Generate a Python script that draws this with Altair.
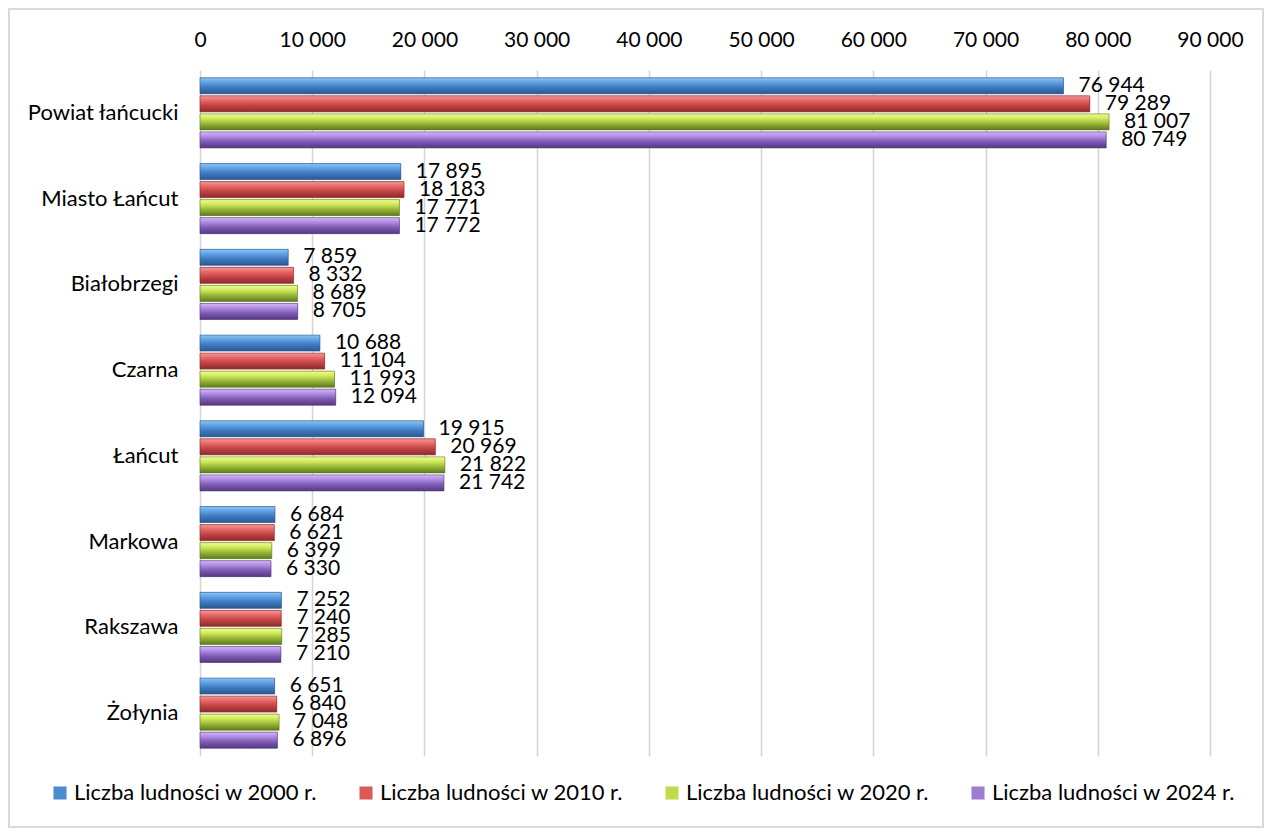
import altair as alt
import pandas as pd

categories = ["Powiat łańcucki", "Miasto Łańcut ", "Białobrzegi", "Czarna", "Łańcut",
              "Markowa", "Rakszawa", "Żołynia"]
series = ["Liczba ludności w 2000 r.", "Liczba ludności w 2010 r.",
          "Liczba ludności w 2020 r.", "Liczba ludności w 2024 r."]
v2000 = [76944, 17895, 7859, 10688, 19915, 6684, 7252, 6651]
v2010 = [79289, 18183, 8332, 11104, 20969, 6621, 7240, 6840]
v2020 = [81007, 17771, 8689, 11993, 21822, 6399, 7285, 7048]
v2024 = [80749, 17772, 8705, 12094, 21742, 6330, 7210, 6896]

colors = ["#4a8bd4", "#dd5858", "#bedc4c", "#9f7bd2"]
grads = [
    ["#8fc6f4", "#5d9fe2", "#3f7ac0", "#2b5890"],
    ["#f49a9a", "#e56666", "#c24444", "#8e2a2a"],
    ["#eeff8a", "#cfe85c", "#9ab83a", "#5f7a1e"],
    ["#d6b6f6", "#ad8ae0", "#7e5cb4", "#55397f"],
]

rows = []
for s, vals in zip(series, [v2000, v2010, v2020, v2024]):
    for c, v in zip(categories, vals):
        rows.append({"cat": c, "series": s, "value": v,
                     "label": f"{v:,}".replace(",", " ")})
df = pd.DataFrame(rows)

FONT = "Lato"
W, H = 1010, 686

y_enc = alt.Y("cat:N", sort=categories,
              scale=alt.Scale(paddingInner=0.18, paddingOuter=0.09),
              axis=alt.Axis(title=None, ticks=False, domain=False, grid=False,
                            labelFontSize=22, labelPadding=22, labelColor="#000",
                            labelFont=FONT, labelLimit=300))
yoff = alt.YOffset("series:N", sort=series, scale=alt.Scale(paddingInner=0.1))
x_enc = alt.X("value:Q", scale=alt.Scale(domain=[0, 90000], nice=False),
              axis=alt.Axis(orient="top", title=None, values=list(range(0, 90001, 10000)),
                            labelExpr="replace(format(datum.value, ',d'), ',', ' ')",
                            ticks=False, domain=False, grid=True, gridColor="#d4d4d4",
                            gridWidth=1.5, labelFontSize=21, labelPadding=20,
                            labelFlush=False, labelOverlap=False,
                            labelColor="#000", labelFont=FONT))

base = alt.Chart(df)

bars = base.mark_bar(size=16).encode(
    x=x_enc, y=y_enc, yOffset=yoff,
    color=alt.Color("series:N", sort=series,
                    scale=alt.Scale(domain=series, range=colors),
                    legend=alt.Legend(title=None, orient="none", direction="horizontal",
                                      legendX=-151, legendY=712, symbolType="square",
                                      symbolSize=170, symbolStrokeWidth=0,
                                      labelFontSize=22, labelFont=FONT, labelColor="#000",
                                      labelLimit=400, columnPadding=37, labelOffset=3)),
)

overlays = []
for s, g in zip(series, grads):
    overlays.append(
        base.transform_filter(alt.datum.series == s).mark_bar(
            size=16,
            fill=alt.Gradient(gradient="linear", x1=0, x2=0, y1=0, y2=1,
                              stops=[alt.GradientStop(offset=0, color=g[0]),
                                     alt.GradientStop(offset=0.3, color=g[1]),
                                     alt.GradientStop(offset=0.6, color=g[2]),
                                     alt.GradientStop(offset=1, color=g[3])]),
            stroke=g[3], strokeWidth=0.6,
        ).encode(x="value:Q", y=alt.Y("cat:N", sort=categories), yOffset=yoff)
    )

labels = base.mark_text(align="left", baseline="middle", dx=15, fontSize=21,
                        font=FONT, color="#000").encode(
    x="value:Q", y=alt.Y("cat:N", sort=categories), yOffset=yoff, text="label:N")

border = base.mark_rect(filled=False, stroke="#d9d9d9", strokeWidth=1.2, clip=False).encode(
    x=alt.value(-191), x2=alt.value(W + 53), y=alt.value(-61), y2=alt.value(H + 71))

chart = alt.layer(bars, *overlays, labels, border).properties(
    width=W, height=H,
    background="white",
    autosize=alt.AutoSizeParams(type="none"),
    padding={"left": 192, "top": 62, "right": 54, "bottom": 72},
).configure_view(strokeWidth=0)

chart.save("out.html", embed_options={"renderer": "svg", "actions": False})
